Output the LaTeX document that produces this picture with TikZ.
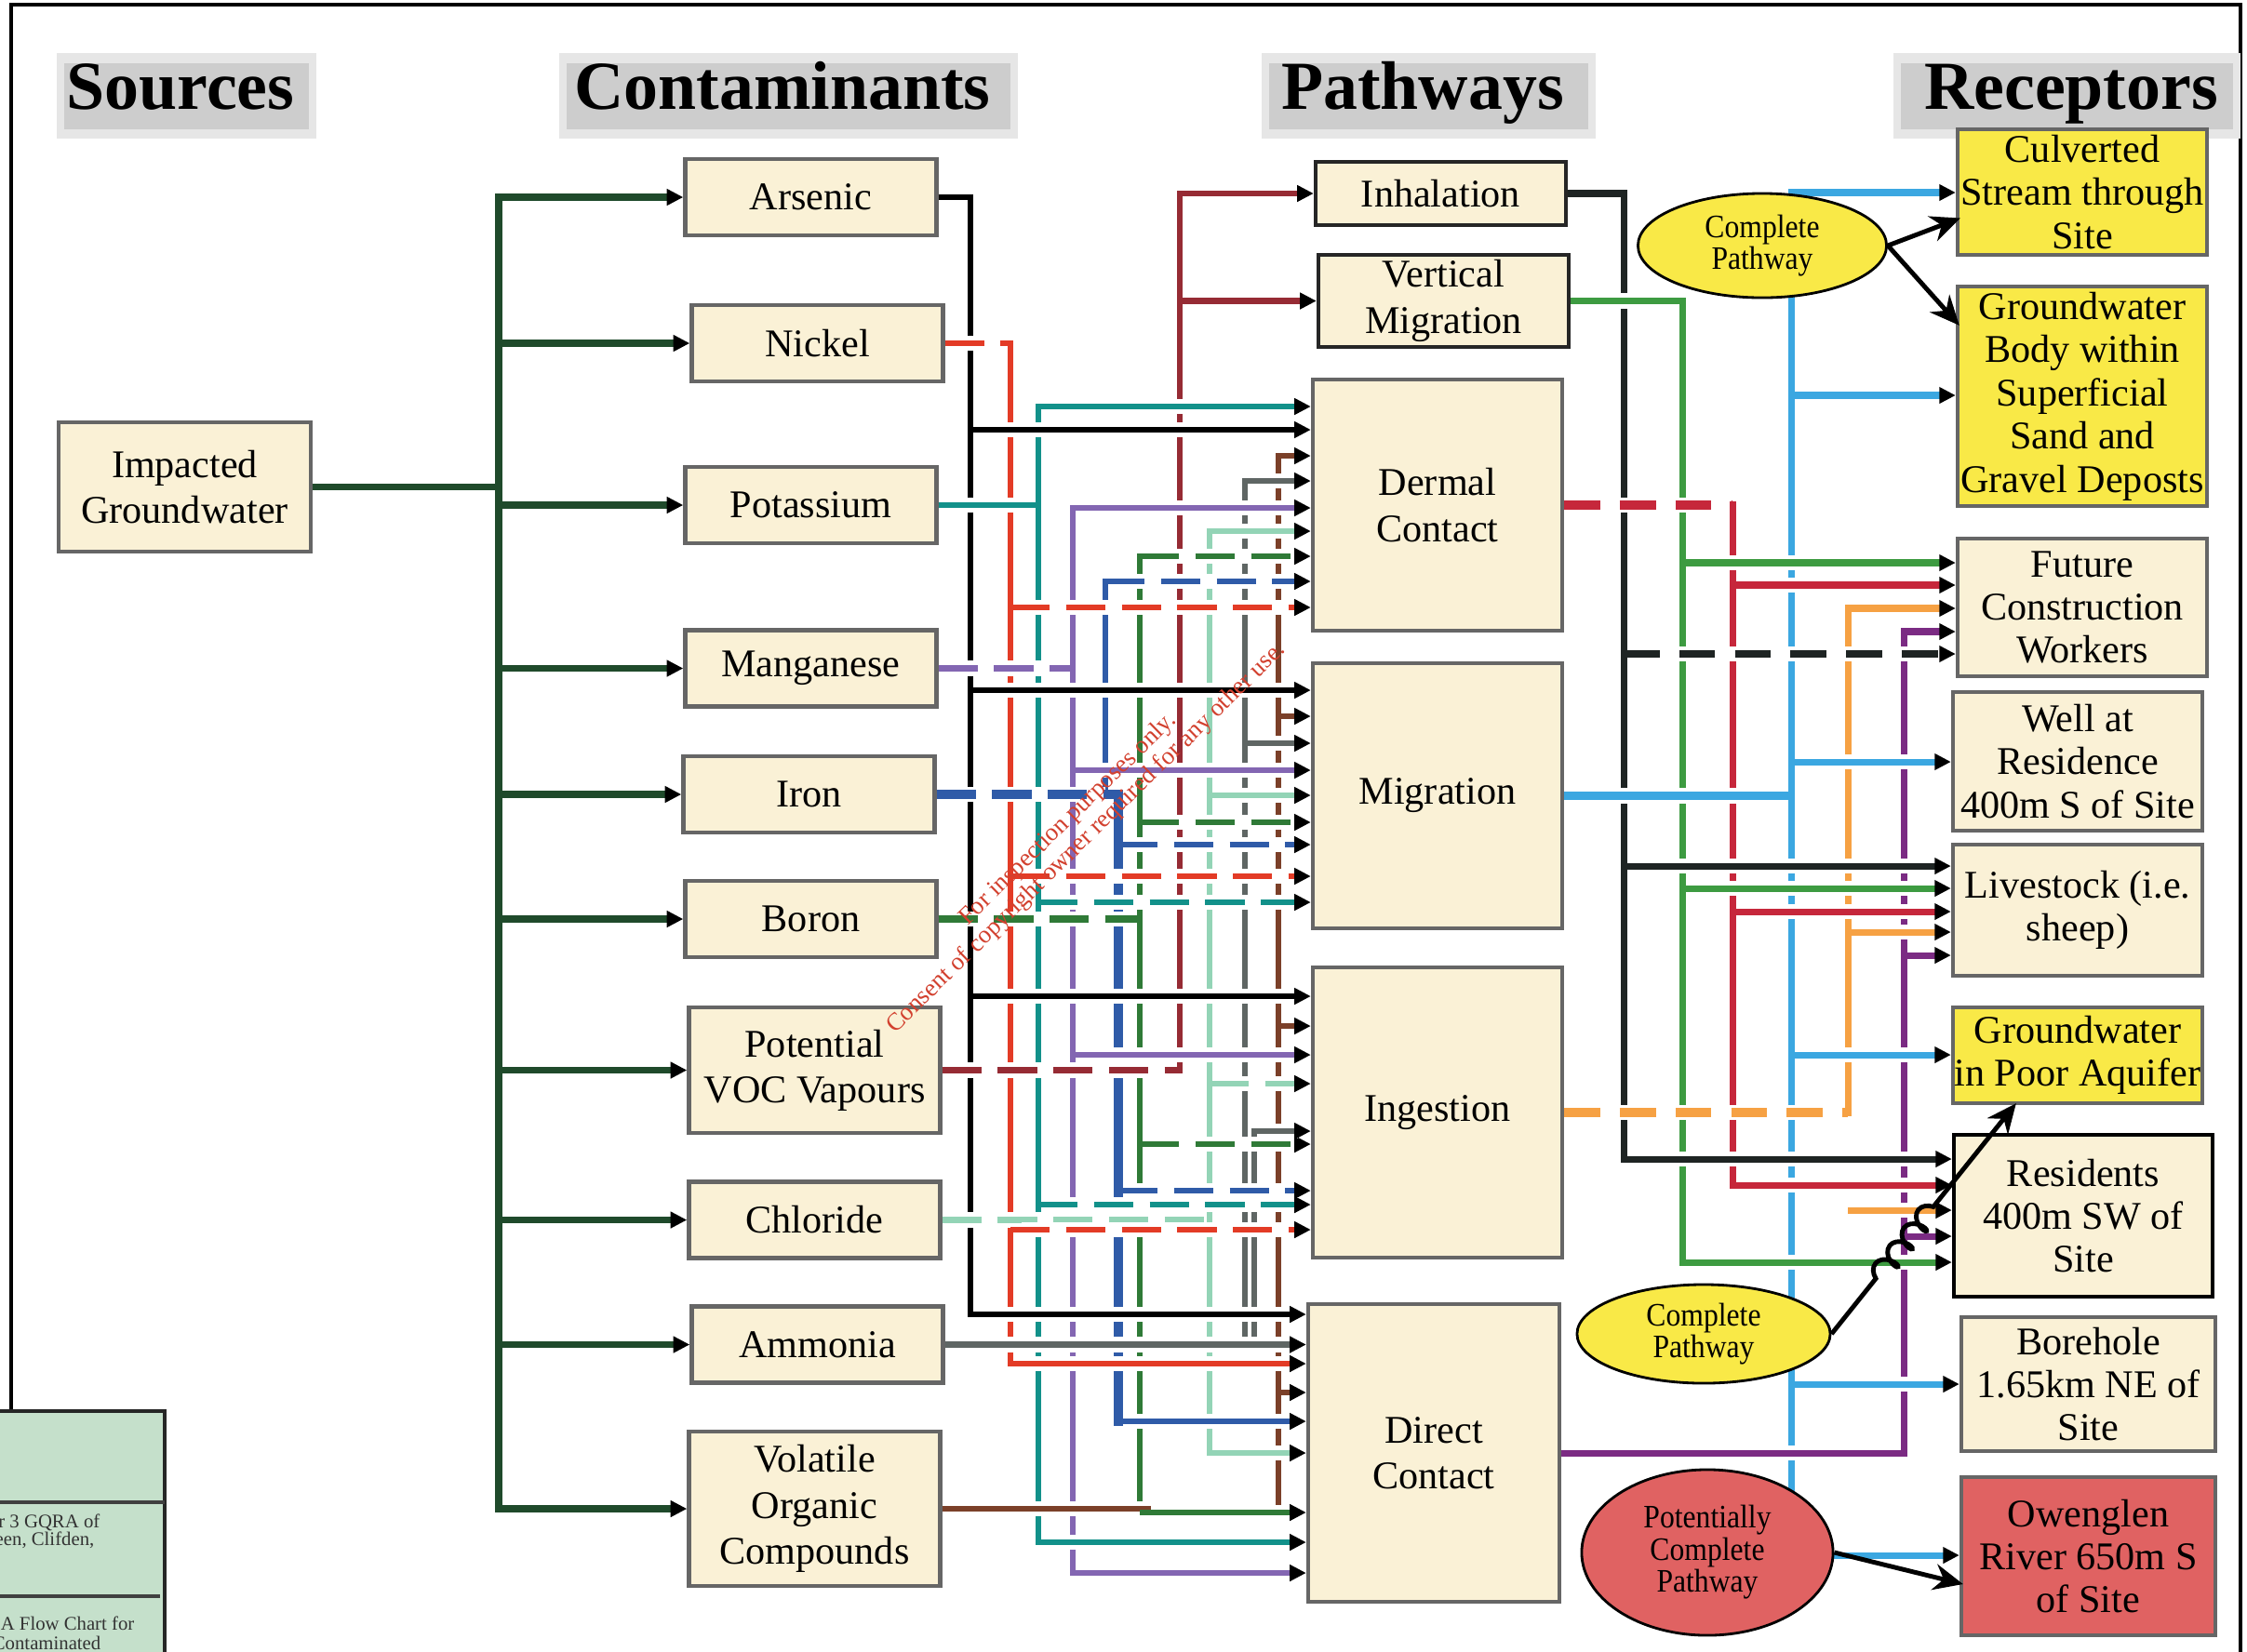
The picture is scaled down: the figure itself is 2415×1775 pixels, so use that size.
\documentclass[tikz,border=0pt]{standalone}
\usepackage{fontspec}
\setmainfont{Liberation Serif}
\newfontfamily\ellfont[FakeStretch=0.9]{Liberation Serif}
\usetikzlibrary{arrows.meta,shapes.geometric,decorations.pathmorphing,calc}
\definecolor{beige}{HTML}{FAF1D6}
\definecolor{yel}{HTML}{F9E947}
\definecolor{rfill}{HTML}{E06262}
\definecolor{hdr}{HTML}{CDCDCD}
\definecolor{hdrl}{HTML}{E6E6E6}
\definecolor{gbox}{HTML}{C5E0CB}
\definecolor{trunk}{HTML}{1F4A2B}
\definecolor{cNi}{HTML}{E33B26}
\definecolor{cK}{HTML}{12918A}
\definecolor{cMn}{HTML}{8366B2}
\definecolor{cFe}{HTML}{2F5BA8}
\definecolor{cB}{HTML}{2F7A37}
\definecolor{cVap}{HTML}{962B34}
\definecolor{cCl}{HTML}{93D4B6}
\definecolor{cNH}{HTML}{5F6664}
\definecolor{cVOC}{HTML}{7B4029}
\definecolor{oInh}{HTML}{1E2423}
\definecolor{oVM}{HTML}{3D9B41}
\definecolor{oDer}{HTML}{C6273B}
\definecolor{oMig}{HTML}{3BA7E1}
\definecolor{oIng}{HTML}{F6A143}
\definecolor{oDC}{HTML}{7B2B83}
\definecolor{wm}{HTML}{D2402E}
\tikzset{
  box/.style={draw=black!60, line width=1.2pt, fill=beige, inner sep=0pt, align=center,
     font=\fontsize{12}{14}\selectfont},
  rcp/.style={box, font=\fontsize{12}{13.2}\selectfont, minimum width=2.68cm},
  cw/.style={minimum width=2.70cm},
  ell/.style={ellipse, draw=black, line width=0.8pt, fill=yel, inner sep=0pt, align=center,
     font=\ellfont\fontsize{10}{9.8}\selectfont},
  hdrtxt/.style={font=\bfseries\fontsize{21}{24}\selectfont, inner sep=0pt},
  arw/.style={-{Triangle[length=5pt,width=4.8pt,color=black]}},
  ln/.style={line width=1.8pt},
  bus/.style={line width=1.8pt, line cap=rect},
  rl/.style={line width=2pt},
  rbus/.style={line width=2pt, line cap=rect},
  hz/.style={preaction={draw=white, solid, -, line width=4.6pt, shorten <=3.5pt, shorten >=4pt}},
  dsh/.style={dash pattern=on 12pt off 5pt},
  rdsh/.style={dash pattern=on 11pt off 6pt},
  ptr/.style={line width=1.4pt, -{Stealth[length=9pt,width=8pt]}},
  trk/.style={line width=2.1pt, trunk},
}
\begin{document}
\begin{tikzpicture}[x=0.01cm,y=-0.01cm]
\useasboundingbox (0,0) rectangle (2415,1775);
\clip (0,0) rectangle (2415,1775);
\fill[white] (0,0) rectangle (2415,1775);
% frame
\draw[line width=1.2pt] (12,1517) -- (12,5) -- (2408,5) -- (2408,1790);
% headers
\foreach \a/\b/\t/\c in {61/340/Sources/194, 601/1094/Contaminants/841, 1356/1715/Pathways/1529, 2035/2408/Receptors/2226}{
  \fill[hdrl] (\a,57) rectangle (\b,149);
  \fill[hdr] (\a+8,68) rectangle (\b-8,139);
  \node[hdrtxt, anchor=base] (h\t) at (\c,117) {\t};
}
% source
\node[box, minimum width=2.71cm, minimum height=1.39cm] (src) at (198.5,523.5) {Impacted\\Groundwater};
% contaminants
\node[box, cw, minimum height=0.82cm] (nAs) at (871.5,212) {Arsenic};
\node[box, cw, minimum height=0.82cm] (nNi) at (878.5,369) {Nickel};
\node[box, cw, minimum height=0.82cm] (nK) at (871.5,543) {Potassium};
\node[box, cw, minimum height=0.82cm] (nMn) at (871.5,718.5) {Manganese};
\node[box, cw, minimum height=0.82cm] (nFe) at (869.5,854) {Iron};
\node[box, cw, minimum height=0.82cm] (nB) at (871.5,988) {Boron};
\node[box, cw, minimum height=1.35cm] (nVap) at (875.5,1150.5) {Potential\\VOC Vapours};
\node[box, cw, minimum height=0.82cm] (nCl) at (875.5,1311.5) {Chloride};
\node[box, cw, minimum height=0.82cm] (nNH) at (878.5,1445.5) {Ammonia};
\node[box, cw, minimum height=1.66cm] (nVOC) at (875.5,1622) {Volatile\\Organic\\Compounds};
% pathways
\node[box, draw=black!85, minimum width=2.69cm, minimum height=0.68cm] (pInh) at (1548.5,208) {Inhalation};
\node[box, draw=black!85, minimum width=2.69cm, minimum height=0.99cm] (pVM) at (1551.5,323.5) {Vertical\\Migration};
\node[box, minimum width=2.68cm, minimum height=2.70cm] (pDer) at (1545,543) {Dermal\\Contact};
\node[box, minimum width=2.68cm, minimum height=2.85cm] (pMig) at (1545,855.5) {Migration};
\node[box, minimum width=2.68cm, minimum height=3.12cm] (pIng) at (1545,1196) {Ingestion};
\node[box, minimum width=2.70cm, minimum height=3.20cm] (pDC) at (1541,1562) {Direct\\Contact};
% receptors
\node[rcp, fill=yel, minimum height=1.35cm] (rCul) at (2238,206.5) {Culverted\\Stream through\\Site};
\node[rcp, fill=yel, minimum height=2.36cm] (rGWB) at (2238,426) {Groundwater\\Body within\\Superficial\\Sand and\\Gravel Deposts};
\node[rcp, minimum height=1.48cm] (rFCW) at (2238,653) {Future\\Construction\\Workers};
\node[rcp, minimum height=1.49cm] (rWell) at (2233,818.5) {Well at\\Residence\\400m S of Site};
\node[rcp, minimum height=1.41cm] (rLiv) at (2233,978.5) {Livestock (i.e.\\sheep)};
\node[rcp, fill=yel, minimum height=1.03cm] (rGWP) at (2233,1134.5) {Groundwater\\in Poor Aquifer};
\node[rcp, draw=black, minimum width=2.78cm, minimum height=1.74cm] (rRes) at (2239,1307) {Residents\\400m SW of\\Site};
\node[rcp, minimum width=2.73cm, minimum height=1.44cm] (rBor) at (2244.5,1488) {Borehole\\1.65km NE of\\Site};
\node[rcp, fill=rfill, minimum width=2.73cm, minimum height=1.70cm] (rOwe) at (2244.5,1673) {Owenglen\\River 650m S\\of Site};

% trunk
\coordinate (tX) at (536,0);
\draw[trk] (src.east) -- (tX |- src.east);
\draw[trk, line cap=rect] (tX |- nAs.west) -- (tX |- nVOC.west);
\foreach \n in {nAs,nNi,nK,nMn,nFe,nB,nVap,nCl,nNH,nVOC}
  \draw[trk, arw] (tX |- \n.west) -- (\n.west);

% contaminant buses
\coordinate (bAs) at (1043,0);
\coordinate (bNi) at (1086,0);
\coordinate (bK) at (1116,0);
\coordinate (bMn) at (1153,0);
\coordinate (bFe) at (1188,0);
\coordinate (bFe2) at (1202,0);
\coordinate (bB) at (1225,0);
\coordinate (bVap) at (1268,0);
\coordinate (bCl) at (1300,0);
\coordinate (bNH) at (1338,0);
\coordinate (bNH2) at (1348,0);
\coordinate (bVOC) at (1374,0);
\draw[bus] (bAs |- nAs.east) -- (bAs |- 0,1413);
\draw[bus,cNi] (bNi |- nNi.east) -- (bNi |- 0,1466);
\draw[bus,cK] (bK |- 0,437) -- (bK |- 0,1658);
\draw[bus,cMn] (bMn |- 0,546) -- (bMn |- 0,1691);
\draw[bus,cFe] (bFe |- 0,625) -- (bFe |- 0,852);
\draw[bus,cFe,line width=2.6pt] (bFe2 |- 0,854) -- (bFe2 |- 0,1528);
\draw[bus,cB] (bB |- 0,598) -- (bB |- 0,1626);
\draw[bus,cVap] (bVap |- pInh.west) -- (bVap |- nVap.east);
\draw[bus,cCl] (bCl |- 0,571) -- (bCl |- 0,1562);
\draw[bus,cNH] (bNH |- 0,517) -- (bNH |- 0,1445);
\draw[bus,cNH] (bNH2 |- 0,1216) -- (bNH2 |- 0,1445);
\draw[bus,cVOC] (bVOC |- 0,490) -- (bVOC |- nVOC.east);

% contaminant to bus
\draw[ln,hz] (nAs.east) -- (bAs |- nAs.east);
\draw[ln,hz,cNi,dsh] (nNi.east) -- (bNi |- nNi.east);
\draw[ln,hz,cK] (nK.east) -- (bK |- nK.east);
\draw[ln,hz,cMn,dsh] (nMn.east) -- (bMn |- nMn.east);
\draw[ln,hz,cFe,dsh,line width=2.6pt] (nFe.east) -- (bFe2 |- nFe.east);
\draw[ln,hz,cB,dsh,line width=2.2pt] (nB.east) -- (bB |- nB.east);
\draw[ln,hz,cVap,dsh] (nVap.east) -- (bVap |- nVap.east);
\draw[ln,hz,cCl,dsh] (nCl.east) -- (bCl |- nCl.east);
\draw[ln,hz,cVOC] (nVOC.east) -- (bVOC |- nVOC.east);
\draw[ln,hz,cNH,arw] (nNH.east) -- (pDC.west |- nNH.east);

% branches to pathways
\foreach \y/\p/\s in {462/pDer/solid,742/pMig/solid,1071/pIng/solid,1413/pDC/solid}
  \draw[ln,hz,arw,black,\s] (bAs |- 0,\y) -- (\p.west |- 0,\y);
\foreach \y/\p/\s in {653/pDer/dsh,942/pMig/dsh,1322/pIng/dsh,1466/pDC/solid}
  \draw[ln,hz,arw,cNi,\s] (bNi |- 0,\y) -- (\p.west |- 0,\y);
\foreach \y/\p/\s in {437/pDer/solid,970/pMig/dsh,1295/pIng/dsh,1658/pDC/solid}
  \draw[ln,hz,arw,cK,\s] (bK |- 0,\y) -- (\p.west |- 0,\y);
\foreach \y/\p/\s in {546/pDer/solid,828/pMig/solid,1134/pIng/solid,1691/pDC/solid}
  \draw[ln,hz,arw,cMn,\s] (bMn |- 0,\y) -- (\p.west |- 0,\y);
\draw[ln,hz,arw,cFe,dsh] (bFe |- 0,625) -- (pDer.west |- 0,625);
\foreach \y/\p/\s in {908/pMig/dsh,1280/pIng/dsh,1528/pDC/solid}
  \draw[ln,hz,arw,cFe,\s] (bFe2 |- 0,\y) -- (\p.west |- 0,\y);
\foreach \y/\p/\s in {598/pDer/dsh,884/pMig/dsh,1230/pIng/dsh,1626/pDC/solid}
  \draw[ln,hz,arw,cB,\s] (bB |- 0,\y) -- (\p.west |- 0,\y);
\draw[ln,hz,arw,cVap] (bVap |- pInh.west) -- (pInh.west);
\draw[ln,hz,arw,cVap] (bVap |- pVM.west) -- (pVM.west);
\foreach \y/\p/\s in {571/pDer/solid,855/pMig/solid,1165/pIng/dsh,1562/pDC/solid}
  \draw[ln,hz,arw,cCl,\s] (bCl |- 0,\y) -- (\p.west |- 0,\y);
\foreach \y/\p/\s in {517/pDer/solid,799/pMig/solid}
  \draw[ln,hz,arw,cNH,\s] (bNH |- 0,\y) -- (\p.west |- 0,\y);
\draw[ln,hz,arw,cNH] (bNH2 |- 0,1216) -- (pIng.west |- 0,1216);
\foreach \y/\p/\s in {490/pDer/solid,770/pMig/solid,1103/pIng/solid,1497/pDC/solid}
  \draw[ln,hz,arw,cVOC,\s] (bVOC |- 0,\y) -- (\p.west |- 0,\y);

% receptor buses
\coordinate (qInh) at (1745,0);
\coordinate (qVM) at (1808,0);
\coordinate (qDer) at (1862,0);
\coordinate (qMig) at (1925,0);
\coordinate (qIng) at (1986,0);
\coordinate (qDC) at (2046,0);
\draw[rbus,oInh] (qInh |- pInh.east) -- (qInh |- 0,1246);
\draw[rbus,oVM] (qVM |- pVM.east) -- (qVM |- 0,1357);
\draw[rbus,oDer] (qDer |- pDer.east) -- (qDer |- 0,1274);
\draw[rbus,oMig] (qMig |- 0,207) -- (qMig |- 0,1672);
\draw[rbus,oIng] (qIng |- 0,654) -- (qIng |- pIng.east);
\draw[rbus,oDC] (qDC |- 0,679) -- (qDC |- pDC.east);

% pathway outputs
\draw[rl,hz,oInh] (pInh.east) -- (qInh |- pInh.east);
\draw[rl,hz,oVM] (pVM.east) -- (qVM |- pVM.east);
\draw[rl,hz,oDer,rdsh,line width=2.6pt] (pDer.east) -- (qDer |- pDer.east);
\draw[rl,hz,oMig,line width=2.6pt] (pMig.east) -- (qMig |- pMig.east);
\draw[rl,hz,oIng,rdsh,line width=2.6pt] (pIng.east) -- (qIng |- pIng.east);
\draw[rl,hz,oDC] (pDC.east) -- (qDC |- pDC.east);

% branches to receptors
\foreach \y/\r/\s in {703/rFCW/rdsh,931/rLiv/solid,1246/rRes/solid}
  \draw[rl,hz,arw,oInh,\s] (qInh |- 0,\y) -- (\r.west |- 0,\y);
\foreach \y/\r in {605/rFCW,955/rLiv,1357/rRes}
  \draw[rl,hz,arw,oVM] (qVM |- 0,\y) -- (\r.west |- 0,\y);
\foreach \y/\r in {629/rFCW,980/rLiv,1274/rRes}
  \draw[rl,hz,arw,oDer] (qDer |- 0,\y) -- (\r.west |- 0,\y);
\foreach \y/\r in {207/rCul,425/rGWB,819/rWell,1134/rGWP,1488/rBor,1672/rOwe}
  \draw[rl,hz,arw,oMig] (qMig |- 0,\y) -- (\r.west |- 0,\y);
\foreach \y/\r in {654/rFCW,1002/rLiv,1301/rRes}
  \draw[rl,hz,arw,oIng] (qIng |- 0,\y) -- (\r.west |- 0,\y);
\foreach \y/\r in {679/rFCW,1027/rLiv,1329/rRes}
  \draw[rl,hz,arw,oDC] (qDC |- 0,\y) -- (\r.west |- 0,\y);

% ellipses
\node[ell, minimum width=2.67cm, minimum height=1.12cm] (cp1) at (1894,264) {Complete\\Pathway};
\node[ell, minimum width=2.72cm, minimum height=1.06cm] (cp2) at (1831,1434) {Complete\\Pathway};
\node[ell, fill=rfill, minimum width=2.70cm, minimum height=1.78cm] (pcp) at (1835,1669) {Potentially\\Complete\\Pathway};

% pathway-status arrows
\draw[ptr] (cp1.east) -- ($(rCul.west)+(5,28)$);
\draw[ptr] (cp1.east) -- ($(rGWB.north west)+(4,44)$);
\coordinate (gwpt) at ($(rGWP.south west)+(70,-2)$);
\draw[ptr] (cp2.east) -- ($(cp2.east)!0.24!(gwpt)$)
   decorate[decoration={coil,amplitude=3pt,segment length=7pt,aspect=0.6}]{-- ($(cp2.east)!0.56!(gwpt)$)}
   -- (gwpt);
\draw[ptr] (pcp.east) -- ($(rOwe.west)+(4,30)$);

% watermark
\node[rotate=44.4, text=wm, align=center, inner sep=0pt, font=\fontsize{7.6}{8}\selectfont] (wmk) at (1158,891)
  {For inspection purposes only.\\Consent of copyright owner required for any other use.};

% title block (cropped)
\filldraw[fill=gbox, draw=black!85, line width=1.1pt] (-10,1517) rectangle (177,1790);
\draw[line width=1.1pt, black!75] (-10,1615) -- (177,1615);
\draw[line width=1.1pt, black!75] (-10,1716) -- (172,1716);
\begin{scope}[every node/.style={anchor=base east, inner sep=0pt, text=black!80, font=\fontsize{5.9}{7}\selectfont}]
\node (t1) at (108,1642) {r 3 GQRA of};
\node (t2) at (102,1661) {een, Clifden,};
\node (t3) at (145,1752) {A Flow Chart for};
\node (t4) at (109,1773) {Contaminated};
\end{scope}
\end{tikzpicture}
\end{document}
